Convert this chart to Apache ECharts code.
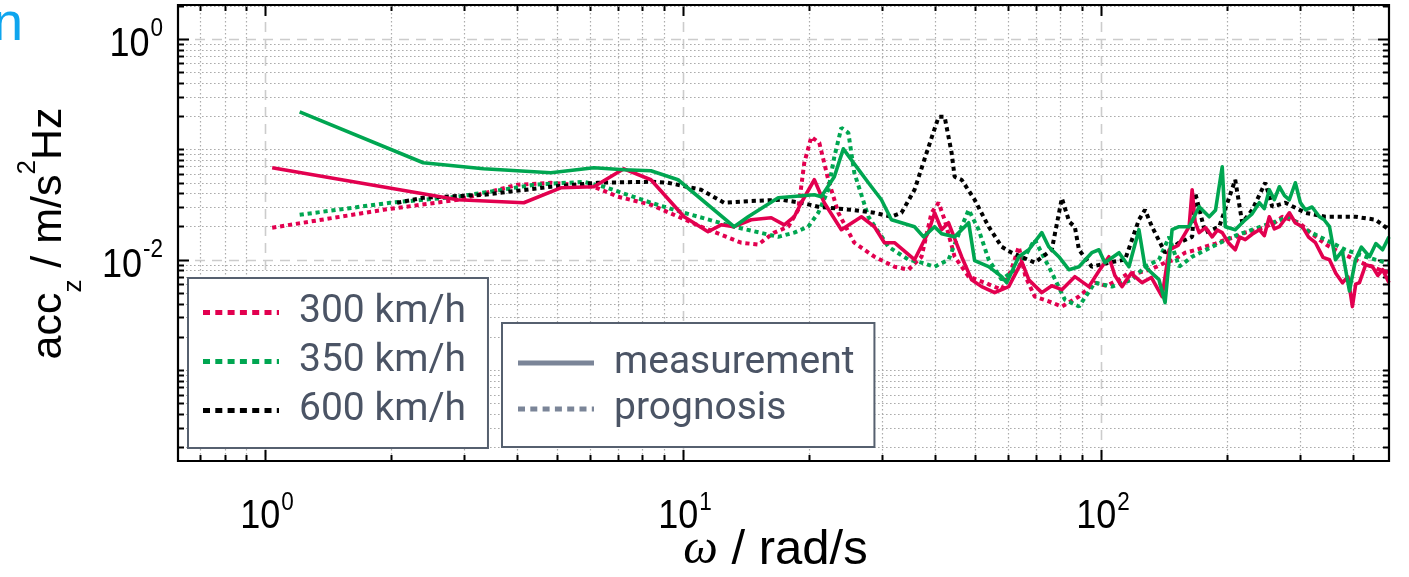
<!DOCTYPE html>
<html><head><meta charset="utf-8">
<script src="https://cdn.jsdelivr.net/npm/echarts@6/dist/echarts.min.js"></script>
<style>html,body{margin:0;padding:0;background:#fff}#c{width:1409px;height:577px}</style>
</head><body><div id="c"></div><script>
// ---- axis ranges & ticks ----
const xRange = [0.619, 489];
const yRange = [1.5e-4, 2.03];
const xMajor = [1, 10, 100];
const xMinor = [0.7,0.8,0.9,2,3,4,5,6,7,8,9,20,30,40,50,60,70,80,90,200,300,400];
const yMajor = [1e-2, 1];
const yMinor = [2e-4,3e-4,4e-4,5e-4,6e-4,7e-4,8e-4,9e-4,
  1e-3,2e-3,3e-3,4e-3,5e-3,6e-3,7e-3,8e-3,9e-3,
  2e-2,3e-2,4e-2,5e-2,6e-2,7e-2,8e-2,9e-2,
  1e-1,2e-1,3e-1,4e-1,5e-1,6e-1,7e-1,8e-1,9e-1,2];
const xLabelExps = [0, 1, 2];
const yLabelExps = [-2, 0];

// ---- series data [omega, acc] ----
const meas300 = [[1.04,0.068],[2.89,0.0349],[4.16,0.0328],[5.10,0.0448],[6.12,0.0458],[7.22,0.0666],[8.38,0.053],[10.06,0.0245],[11.48,0.0179],[12.34,0.0207],[13.25,0.0199],[14.56,0.023],[16.26,0.024],[17.47,0.0207],[18.46,0.0245],[19.19,0.0328],[20.62,0.053],[21.78,0.0328],[23.93,0.0187],[26.73,0.0245],[28.71,0.0199],[30.34,0.01425],[32.06,0.01425],[35.81,0.0100],[38.69,0.0179],[40.0,0.0266],[41.57,0.0187],[43.2,0.0216],[46.42,0.01064],[49.05,0.00659],[51.84,0.0057],[55.69,0.00503],[60.17,0.0057],[64.66,0.00959],[67.2,0.00659],[72.2,0.00503],[76.3,0.0058],[80.63,0.00535],[86.61,0.00702],[93.58,0.0057],[98.9,0.0079],[104.5,0.01064],[108,0.0072],[112.3,0.0057],[118,0.0075],[125.4,0.00619],[132,0.0069],[140.1,0.00463],[145.6,0.0123],[153,0.0135],[162.6,0.0199],[165.3,0.043],[168,0.022],[171.8,0.0176],[178,0.0195],[184.6,0.0161],[190,0.0185],[195.1,0.0176],[202,0.0142],[209.6,0.0123],[215,0.0160],[221.5,0.0152],[230,0.0170],[239.3,0.0187],[246,0.0165],[252.9,0.0245],[260,0.0190],[267.3,0.0199],[275,0.0230],[282.4,0.0266],[292,0.0215],[303.4,0.0199],[314,0.0160],[326.1,0.01425],[340,0.0105],[352.3,0.0100],[365,0.0075],[378.4,0.00619],[390,0.0070],[399.7,0.00376],[407,0.0060],[415.5,0.00619],[430,0.0090],[446.6,0.00864],[460,0.0072],[472,0.00812],[489,0.00619]];
const prog300 = [[1.04,0.0195],[1.92,0.0283],[2.89,0.0349],[4.02,0.0477],[4.83,0.0498],[6.12,0.0458],[6.99,0.0372],[8.38,0.0315],[11.05,0.0199],[13.78,0.01425],[15.13,0.0137],[16.53,0.0176],[17.86,0.0199],[18.87,0.0283],[19.51,0.0755],[20.28,0.1297],[21.19,0.1145],[22.27,0.053],[23.53,0.0266],[25.7,0.01425],[28.71,0.01064],[32.06,0.00864],[34.64,0.00812],[37.22,0.01064],[39.33,0.0266],[40.89,0.0328],[42.27,0.023],[44.66,0.01064],[48.26,0.00702],[52.72,0.00619],[57.88,0.00535],[61,0.0080],[63.6,0.0131],[66,0.0070],[69.46,0.00463],[75,0.0042],[80.63,0.00376],[88.6,0.00463],[96.7,0.00619],[103,0.0058],[110.5,0.00659],[116,0.0075],[123.3,0.00763],[132,0.0082],[142.4,0.0094],[150,0.0100],[159.0,0.01157],[168,0.0122],[177.6,0.0131],[188,0.0140],[198.4,0.0152],[210,0.0160],[221.5,0.0176],[234,0.0185],[247.4,0.0199],[260,0.0215],[271.6,0.0245],[285,0.0230],[298.4,0.0216],[315,0.0180],[333.3,0.0152],[348,0.0135],[364.1,0.0123],[385,0.0110],[406.6,0.0100],[426,0.0092],[446.6,0.00864],[468,0.0080],[489,0.00763]];
const meas350 = [[1.21,0.218],[2.39,0.0755],[3.33,0.0666],[4.83,0.0613],[6.12,0.068],[7.22,0.0652],[8.38,0.0639],[9.73,0.053],[13.25,0.0199],[14.32,0.0245],[16.9,0.0364],[20.62,0.0387],[21.42,0.0372],[23.02,0.0564],[24.19,0.101],[25.7,0.0739],[27.77,0.0498],[29.84,0.0349],[31.53,0.023],[33.33,0.0216],[35.81,0.0199],[37.63,0.0161],[39.99,0.0199],[41.57,0.0172],[44.66,0.0161],[48.26,0.0216],[49.87,0.00979],[53.88,0.00864],[57.88,0.00702],[59.5,0.00619],[63.6,0.01064],[67.2,0.0123],[72.2,0.0176],[75.0,0.0131],[79.3,0.01064],[83.8,0.00812],[88.6,0.00864],[95.1,0.01157],[98.9,0.0123],[102.2,0.0094],[110.5,0.01157],[116.7,0.00864],[123.3,0.0187],[127.5,0.00864],[137.7,0.00659],[142.4,0.00408],[148.0,0.0187],[153.8,0.0199],[162.6,0.0199],[171.8,0.0302],[181.6,0.0245],[188,0.0280],[195.1,0.0694],[198.4,0.0199],[209.6,0.0187],[221.5,0.023],[230,0.0260],[239.3,0.0328],[246,0.0290],[252.9,0.043],[260,0.0350],[267.3,0.0458],[275,0.0380],[282.4,0.0349],[291.9,0.0498],[300,0.0330],[308.5,0.0283],[320,0.0300],[333.3,0.0245],[342,0.0230],[352.3,0.0199],[364.1,0.0100],[378,0.0120],[393.3,0.0052],[406.6,0.0100],[420,0.0130],[439.3,0.01064],[455,0.0140],[472,0.0123],[489,0.0161]];
const prog350 = [[1.21,0.0255],[1.99,0.0328],[2.89,0.0372],[4.39,0.0477],[5.79,0.0508],[6.47,0.0458],[8.38,0.0328],[10.06,0.0266],[13.25,0.0199],[16.9,0.0161],[18.46,0.0176],[19.94,0.0199],[21.07,0.0266],[22.27,0.043],[23.02,0.0855],[23.93,0.1565],[24.87,0.141],[25.7,0.0613],[27.77,0.0245],[31.01,0.0131],[34.64,0.0100],[37.22,0.0094],[40.0,0.00864],[43.2,0.0100],[46.42,0.0199],[48.26,0.0283],[50.98,0.0187],[53.88,0.0100],[57.88,0.00659],[63.6,0.00864],[69.46,0.0152],[76.29,0.00763],[81.98,0.00435],[88.6,0.00376],[96.7,0.00619],[106.3,0.0057],[118.7,0.00659],[127.5,0.00864],[137.7,0.0100],[145.6,0.0161],[153.8,0.00864],[165.3,0.01064],[184.6,0.0131],[206.2,0.0161],[230.2,0.0187],[257.0,0.0216],[282.4,0.0245],[308.5,0.0187],[344.5,0.0152],[384.7,0.0123],[429.7,0.01064],[479.8,0.0094],[489,0.0093]];
const prog600 = [[2.07,0.0328],[2.39,0.0364],[3.33,0.0387],[4.83,0.0458],[6.25,0.0498],[8.38,0.0508],[9.2,0.0498],[11.05,0.043],[12.54,0.0328],[14.56,0.034],[17.18,0.0349],[19.19,0.0328],[21.07,0.0302],[25.29,0.0283],[28.71,0.0266],[31.53,0.0245],[33.33,0.0266],[35.81,0.043],[38.69,0.1053],[40.89,0.197],[42.27,0.197],[43.93,0.093],[44.66,0.0564],[46.42,0.053],[49.87,0.0349],[53.88,0.0199],[57.88,0.0131],[61.18,0.01157],[69.46,0.0094],[76.29,0.0123],[80.63,0.036],[84,0.022],[86.61,0.0199],[88.6,0.0123],[95.1,0.00864],[104.5,0.0094],[114.2,0.0100],[123.3,0.023],[127.5,0.0283],[132.5,0.0199],[142.4,0.01157],[153.8,0.01425],[165.3,0.0161],[168.1,0.0404],[177.6,0.0176],[191.9,0.0199],[209.6,0.053],[217.8,0.0216],[230.2,0.0283],[247.4,0.0498],[257.0,0.0302],[276.2,0.0328],[308.5,0.0266],[344.5,0.0245],[378.4,0.0245],[406.6,0.0245],[454.1,0.023],[489,0.0187]];

// ---- styles ----
const RED = '#e2004f', GREEN = '#00a651', BLACK = '#000000', LEG_GRAY = '#7b8598';
const TXT = '#4b5465';
const FONT_AX = "'Liberation Sans',Arial,sans-serif";
const DOTTED_ICON = 'path://M0 0h7v5h-7z M12.3 0h7v5h-7z M24.6 0h7v5h-7z M36.9 0h7v5h-7z M49.2 0h7v5h-7z M61.5 0h7v5h-7z M73.8 0h2.2v5h-2.2z';

const minorStyle = {stroke:'#acacac', lineWidth:1.2, lineDash:[1.6,2.4]};
const majorStyle = {stroke:'#cccccc', lineWidth:1.6, lineDash:[10,7]};
const tickStyle = {stroke:'#000', lineWidth:2};

const measCtx = document.createElement('canvas').getContext('2d');
function textW(t, font) { measCtx.font = font; return measCtx.measureText(t).width; }
const LBL_BASE_FONT = "40px 'Liberation Sans', Arial, sans-serif";
const LBL_SUP_FONT = "25px 'Liberation Sans', Arial, sans-serif";
const LBL_SX = 0.9;

function gridRender(dir, major) {
  return function (params, api) {
    const cs = params.coordSys;
    const t = major ? 11 : 6;
    const els = [];
    if (dir === 'v') {
      const x = Math.round(api.coord([api.value(0), 1])[0]) + 0.5;
      els.push({type:'line', silent:true, shape:{x1:x, y1:cs.y, x2:x, y2:cs.y + cs.height}, style: major ? majorStyle : minorStyle});
      els.push({type:'line', silent:true, shape:{x1:x, y1:cs.y + cs.height, x2:x, y2:cs.y + cs.height - t}, style: tickStyle});
      els.push({type:'line', silent:true, shape:{x1:x, y1:cs.y, x2:x, y2:cs.y + t}, style: tickStyle});
    } else {
      const y = Math.round(api.coord([1, api.value(1)])[1]) + 0.5;
      els.push({type:'line', silent:true, shape:{x1:cs.x, y1:y, x2:cs.x + cs.width, y2:y}, style: major ? majorStyle : minorStyle});
      els.push({type:'line', silent:true, shape:{x1:cs.x, y1:y, x2:cs.x + t, y2:y}, style: tickStyle});
      els.push({type:'line', silent:true, shape:{x1:cs.x + cs.width, y1:y, x2:cs.x + cs.width - t, y2:y}, style: tickStyle});
    }
    return {type:'group', children: els};
  };
}
function gridSeries(dir, major, vals) {
  return {type:'custom', z:1, silent:true, clip:false, animation:false,
    renderItem: gridRender(dir, major),
    data: vals.map(v => dir === 'v' ? [v, 1] : [1, v])};
}
// tick labels "10^e" drawn at the axis' own coordinates
function tickLabelRender(dir) {
  return function (params, api) {
    const cs = params.coordSys;
    const v = dir === 'x' ? api.value(0) : api.value(1);
    const sup = String(Math.round(Math.log10(v)));
    const wB = textW('10', LBL_BASE_FONT) * LBL_SX;
    const wS = textW(sup, LBL_SUP_FONT) * LBL_SX;
    let left, yB, yS;
    if (dir === 'x') {
      const x = api.coord([v, 1])[0];
      left = x - (wB + 1 + wS) / 2 + 2;
      yB = cs.y + cs.height + 56; yS = cs.y + cs.height + 42.5;
    } else {
      const y = api.coord([1, v])[1];
      left = cs.x - 15 - (wB + 1 + wS);
      yB = y + 6; yS = y - 10;
    }
    return {type:'group', children:[
      {type:'text', x:left, y:yB, scaleX:LBL_SX, style:{text:'10', font:LBL_BASE_FONT, fill:'#000', align:'left', verticalAlign:'middle'}},
      {type:'text', x:left + wB + 1, y:yS, scaleX:LBL_SX, style:{text:sup, font:LBL_SUP_FONT, fill:'#000', align:'left', verticalAlign:'middle'}}
    ]};
  };
}
function tickLabelSeries(dir, exps) {
  return {type:'custom', z:6, silent:true, clip:false, animation:false,
    renderItem: tickLabelRender(dir),
    data: exps.map(e => dir === 'x' ? [Math.pow(10, e), 1] : [1, Math.pow(10, e)])};
}
function lineSeries(name, data, color, dotted) {
  return {type:'line', name, data, color, showSymbol:false, symbol:'none', animation:false, z: dotted ? 3 : 4,
    lineStyle: dotted ? {color, width:4, type:[4.2,3.8], cap:'butt'} : {color, width:3.6, join:'round'}};
}

// y-axis title: acc_z / m/s^2Hz, laid out along the rotated text line
const YN_B = "43px 'Liberation Sans', Arial, sans-serif";
const YN_S = "26px 'Liberation Sans', Arial, sans-serif";
const yNameParts = [['acc', YN_B, 0], ['z', YN_S, 24.5], [' / m/s', YN_B, 0], ['2', YN_S, -22], ['Hz', YN_B, 0]];
const yNameW = yNameParts.reduce((s, p) => s + textW(p[0], p[1]), 0);
let yNameX = -yNameW / 2;
const yNameChildren = yNameParts.map(p => {
  const el = {type:'text', x:yNameX, y:p[2], style:{text:p[0], font:p[1], fill:'#000', align:'left', verticalAlign:'middle'}};
  yNameX += textW(p[0], p[1]);
  return el;
});

const chart = echarts.init(document.getElementById('c'), null, {renderer:'canvas'});
chart.setOption({
  animation:false,
  backgroundColor:'#ffffff',
  grid:{left:178, top:5, right:20, bottom:116, containLabel:false, outerBoundsMode:'none',
        show:true, borderColor:'#000', borderWidth:2.2, backgroundColor:'transparent', z:5},
  xAxis:{type:'log', logBase:10, min:xRange[0], max:xRange[1],
    axisLine:{show:false}, axisTick:{show:false}, splitLine:{show:false}, minorTick:{show:false},
    axisLabel:{show:false},
    name:'{i|ω}{b| / rad/s}', nameLocation:'middle', nameGap:63, nameMoveOverlap:false,
    nameTextStyle:{padding:[0,16,0,0],
      rich:{i:{fontSize:49, fontFamily:"'Liberation Serif',serif", fontStyle:'italic', color:'#000', lineHeight:52},
            b:{fontSize:49, fontFamily:FONT_AX, color:'#000', lineHeight:52}}}},
  yAxis:{type:'log', logBase:10, min:yRange[0], max:yRange[1],
    axisLine:{show:false}, axisTick:{show:false}, splitLine:{show:false}, minorTick:{show:false},
    axisLabel:{show:false}},
  legend:[
    {data:[{name:'300 km/h', icon:DOTTED_ICON},{name:'350 km/h', icon:DOTTED_ICON},{name:'600 km/h', icon:DOTTED_ICON}],
     orient:'vertical', left:188, top:278, selectedMode:false, z:10,
     backgroundColor:'#ffffff', borderColor:'#56606f', borderWidth:2, borderRadius:0,
     padding:[10,22,13,15], itemWidth:76, itemHeight:5, itemGap:0,
     itemStyle:{borderWidth:0},
     textStyle:{fontFamily:'Roboto', fontSize:39, color:TXT, lineHeight:49, padding:[0,0,0,15]}},
    {data:[{name:'measurement', icon:'rect'},{name:'prognosis', icon:DOTTED_ICON}],
     orient:'vertical', left:502, top:323, selectedMode:false, z:10,
     backgroundColor:'#ffffff', borderColor:'#56606f', borderWidth:2, borderRadius:0,
     padding:[17,20,15,16], itemWidth:76, itemHeight:5, itemGap:0,
     itemStyle:{borderWidth:0},
     textStyle:{fontFamily:'Roboto', fontSize:39, color:TXT, lineHeight:46, padding:[0,0,0,15]}}
  ],
  graphic:[
    {type:'text', x:-7, y:-2, style:{text:'n', font:"54px 'Liberation Sans', Arial, sans-serif", fill:'#0ea5ee', verticalAlign:'top'}},
    {type:'group', x:49.5, y:233.5, rotation:Math.PI / 2, children:yNameChildren}
  ],
  series:[
    gridSeries('v', false, xMinor), gridSeries('v', true, xMajor),
    gridSeries('h', false, yMinor), gridSeries('h', true, yMajor),
    tickLabelSeries('x', xLabelExps), tickLabelSeries('y', yLabelExps),
    lineSeries('300 km/h', prog300, RED, true),
    lineSeries('350 km/h', prog350, GREEN, true),
    lineSeries('600 km/h', prog600, BLACK, true),
    lineSeries('300 km/h measurement', meas300, RED, false),
    lineSeries('350 km/h measurement', meas350, GREEN, false),
    {type:'line', name:'measurement', data:[], color:LEG_GRAY, symbol:'none', lineStyle:{color:LEG_GRAY, width:3}},
    {type:'line', name:'prognosis', data:[], color:LEG_GRAY, symbol:'none', lineStyle:{color:LEG_GRAY, width:3, type:[4,4]}}
  ]
});
</script></body></html>
